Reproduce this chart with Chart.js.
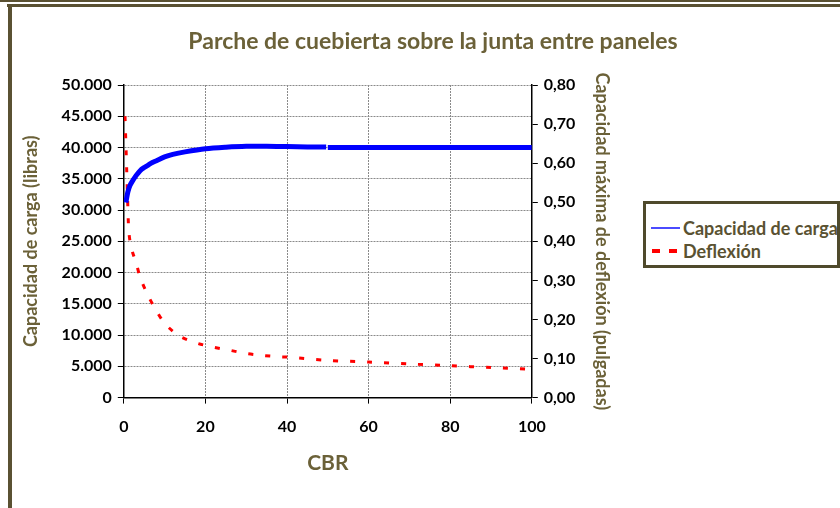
<!DOCTYPE html>
<html>
<head>
<meta charset="utf-8">
<script src="https://cdn.jsdelivr.net/npm/chart.js@4.4.1/dist/chart.umd.min.js"></script>
<style>
    html, body { margin: 0; padding: 0; background: #fff; }
    #wrap { position: relative; width: 840px; height: 508px; overflow: hidden; }
    #frameTop1 { position: absolute; left: 0; top: 0; width: 840px; height: 2px; background: #5a5132; }
    #frameTop2 { position: absolute; left: 7px; top: 4px; width: 833px; height: 3px; background: #5a5132; }
    #frameLeft { position: absolute; left: 8px; top: 4px; width: 4px; height: 504px; background: #5a5132; }
    #leyenda {
        position: absolute; left: 643px; top: 201px; width: 191px; height: 61px;
        border: 3px solid #4f4a2c; background: #fff;
        font-family: Lato, sans-serif; font-weight: bold; font-size: 18px; color: #5a5232;
        white-space: nowrap; overflow: hidden;
    }
    .item { position: absolute; left: 0; height: 22px; line-height: 22px; }
    .muestra { position: absolute; }
    .texto { position: absolute; left: 37px; top: 0; }
</style>
</head>
<body>
<div id="wrap">
    <canvas id="grafico" width="840" height="508"></canvas>
    <div id="frameTop1"></div>
    <div id="frameTop2"></div>
    <div id="frameLeft"></div>
    <div id="leyenda">
        <div class="item" style="top: 13px;">
            <div class="muestra" style="left: 5px; top: 10px; width: 29px; height: 2px; background: #4b4bff;"></div>
            <span class="texto">Capacidad de carga</span>
        </div>
        <div class="item" style="top: 36px;">
            <div class="muestra" style="left: 6px; top: 9px; width: 8px; height: 4px; background: #ff0000;"></div>
            <div class="muestra" style="left: 23px; top: 9px; width: 8px; height: 4px; background: #ff0000;"></div>
            <span class="texto">Deflexión</span>
        </div>
    </div>
</div>
<script>
    // Capacidad de carga (libras) vs CBR
    var cbrCarga = [0.5, 1, 1.5, 2, 3, 4, 5, 6, 7, 8, 10, 12, 15, 20, 25, 30, 35, 40, 45, 49.6, 49.8, 50, 60, 70, 80, 90, 100];
    var carga = [31200, 32900, 33900, 34500, 35500, 36300, 36800, 37200, 37600, 37900, 38500, 38900, 39300, 39800, 40050, 40200, 40200, 40150, 40100, 40080, null, 40000, 40000, 40000, 40000, 40000, 40000];

    // Deflexión (pulgadas) vs CBR
    var cbrDeflexion = [0.3, 0.6, 0.9, 1.2, 1.6, 2.2, 3, 4, 6, 8, 10, 12, 14, 18, 22, 26, 30, 34, 38, 40, 50, 60, 70, 80, 90, 100];
    var deflexion = [0.72, 0.62, 0.52, 0.43, 0.395, 0.37, 0.346, 0.308, 0.26, 0.222, 0.19, 0.17, 0.155, 0.139, 0.129, 0.121, 0.113, 0.108, 0.1045, 0.1037, 0.0953, 0.091, 0.086, 0.0815, 0.077, 0.0723];

    var ticksCbr = [0, 20, 40, 60, 80, 100];

    var TITULO = 'Parche de cuebierta sobre la junta entre paneles';
    var OLIVA = '#6b6138';
    var FONTE = 'Lato, sans-serif';

    function montarPontos(xs, ys) {
        return xs.map(function (x, i) { return { x: x, y: ys[i] }; });
    }

    function formatarMilhar(v) {
        return String(v).replace(/\B(?=(\d{3})+(?!\d))/g, '.');
    }

    // Título centrado na largura do quadro (não só na área do gráfico)
    var tituloPlugin = {
        id: 'tituloCentrado',
        afterDraw: function (chart) {
            var ctx = chart.ctx;
            ctx.save();
            ctx.fillStyle = OLIVA;
            ctx.font = 'bold 23px ' + FONTE;
            ctx.textAlign = 'center';
            ctx.textBaseline = 'middle';
            ctx.fillText(TITULO, 433, 42);
            ctx.restore();
        }
    };

    var fonteTick = { family: FONTE, size: 16, weight: 'bold' };
    var fonteEixo = { family: FONTE, size: 18, weight: 'bold' };

    new Chart(document.getElementById('grafico').getContext('2d'), {
        type: 'line',
        data: {
            datasets: [
                {
                    label: 'Capacidad de carga',
                    data: montarPontos(cbrCarga, carga),
                    borderColor: '#0000ff',
                    borderWidth: 5,
                    pointRadius: 0,
                    tension: 0.3,
                    spanGaps: false,
                    yAxisID: 'y'
                },
                {
                    label: 'Deflexión',
                    data: montarPontos(cbrDeflexion, deflexion),
                    borderColor: '#ff0000',
                    borderWidth: 3,
                    borderDash: [5, 12],
                    pointRadius: 0,
                    tension: 0.3,
                    yAxisID: 'y1'
                }
            ]
        },
        plugins: [tituloPlugin],
        options: {
            responsive: false,
            animation: false,
            layout: { padding: { left: 16, right: 223, top: 85, bottom: 28 } },
            plugins: {
                legend: { display: false },
                tooltip: { enabled: false },
                title: { display: false }
            },
            scales: {
                x: {
                    type: 'linear',
                    min: 0,
                    max: 100,
                    afterBuildTicks: function (axis) { axis.ticks = ticksCbr.map(function (v) { return { value: v }; }); },
                    ticks: { color: '#000', font: fonteTick, padding: 14, maxRotation: 0 },
                    grid: { color: '#8a8a8a', tickColor: '#000', tickLength: 6, lineWidth: 1 },
                    border: { color: '#000', width: 1.5, dash: [2, 1] },
                    title: { display: true, text: 'CBR', color: OLIVA, font: { family: FONTE, size: 21, weight: 'bold' }, padding: { top: 0 } }
                },
                y: {
                    position: 'left',
                    min: 0,
                    max: 50000,
                    ticks: { stepSize: 5000, color: '#000', font: fonteTick, padding: 6, callback: function (v) { return formatarMilhar(v); } },
                    grid: { color: '#8a8a8a', tickColor: '#000', tickLength: 6, lineWidth: 1 },
                    border: { color: '#000', width: 1.5, dash: [2, 1] },
                    title: { display: true, text: 'Capacidad de carga (libras)', color: OLIVA, font: fonteEixo, padding: { bottom: 14 } }
                },
                y1: {
                    position: 'right',
                    min: 0,
                    max: 0.8,
                    ticks: { stepSize: 0.1, color: '#000', font: fonteTick, padding: 6, callback: function (v) { return v.toFixed(2).replace('.', ','); } },
                    grid: { drawOnChartArea: false, tickColor: '#000', tickLength: 6 },
                    border: { color: '#000', width: 1.5 },
                    title: { display: true, text: 'Capacidad máxima de deflexión (pulgadas)', color: OLIVA, font: fonteEixo, padding: { top: 4, bottom: 10 } }
                }
            }
        }
    });
</script>
</body>
</html>
